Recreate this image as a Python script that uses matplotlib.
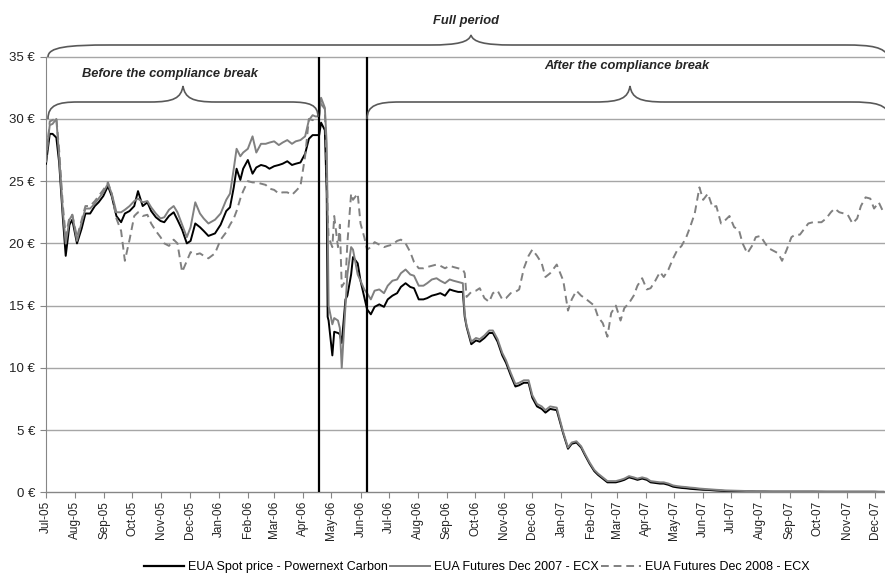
import matplotlib
matplotlib.use("Agg")
import matplotlib.pyplot as plt
import matplotlib.dates as mdates
from matplotlib.path import Path
from matplotlib.patches import PathPatch
from matplotlib.transforms import Affine2D
from matplotlib.lines import Line2D
import pandas as pd

plt.rcParams['font.family'] = ['Liberation Sans', 'DejaVu Sans']

# ---------------- data ----------------
dates = [
    "2005-07-01", "2005-07-05", "2005-07-08", "2005-07-12", "2005-07-15", "2005-07-19", "2005-07-22", "2005-07-26", "2005-07-29",
    "2005-08-03", "2005-08-08", "2005-08-12", "2005-08-17", "2005-08-22", "2005-08-26", "2005-08-31",
    "2005-09-05", "2005-09-09", "2005-09-14", "2005-09-19", "2005-09-23", "2005-09-28",
    "2005-10-03", "2005-10-07", "2005-10-12", "2005-10-17", "2005-10-21", "2005-10-26", "2005-10-31",
    "2005-11-04", "2005-11-09", "2005-11-14", "2005-11-18", "2005-11-23", "2005-11-28",
    "2005-12-02", "2005-12-07", "2005-12-12", "2005-12-16", "2005-12-21", "2005-12-28",
    "2006-01-03", "2006-01-09", "2006-01-13", "2006-01-17", "2006-01-20", "2006-01-24", "2006-01-27",
    "2006-02-01", "2006-02-06", "2006-02-10", "2006-02-15", "2006-02-20", "2006-02-24",
    "2006-03-01", "2006-03-06", "2006-03-10", "2006-03-15", "2006-03-20", "2006-03-24", "2006-03-29",
    "2006-04-03", "2006-04-07", "2006-04-11", "2006-04-14", "2006-04-18", "2006-04-20", "2006-04-24", "2006-04-26", "2006-04-27", "2006-04-28",
    "2006-05-02", "2006-05-04", "2006-05-08", "2006-05-10", "2006-05-12", "2006-05-16", "2006-05-18", "2006-05-22", "2006-05-24", "2006-05-29",
    "2006-06-01", "2006-06-05", "2006-06-08", "2006-06-12", "2006-06-16", "2006-06-21", "2006-06-26", "2006-06-30",
    "2006-07-05", "2006-07-10", "2006-07-14", "2006-07-19", "2006-07-24", "2006-07-28",
    "2006-08-02", "2006-08-07", "2006-08-11", "2006-08-16", "2006-08-21", "2006-08-25", "2006-08-30",
    "2006-09-04", "2006-09-08", "2006-09-13", "2006-09-18", "2006-09-20", "2006-09-22", "2006-09-27",
    "2006-10-02", "2006-10-06", "2006-10-11", "2006-10-16", "2006-10-20", "2006-10-25", "2006-10-30",
    "2006-11-03", "2006-11-08", "2006-11-13", "2006-11-17", "2006-11-22", "2006-11-27",
    "2006-12-01", "2006-12-06", "2006-12-11", "2006-12-15", "2006-12-20", "2006-12-27",
    "2007-01-03", "2007-01-08", "2007-01-12", "2007-01-17", "2007-01-22", "2007-01-26", "2007-01-31",
    "2007-02-05", "2007-02-09", "2007-02-14", "2007-02-19", "2007-02-23", "2007-02-28",
    "2007-03-05", "2007-03-09", "2007-03-14", "2007-03-19", "2007-03-23", "2007-03-28",
    "2007-04-02", "2007-04-06", "2007-04-11", "2007-04-16", "2007-04-20", "2007-04-25", "2007-04-30",
    "2007-05-04", "2007-05-09", "2007-05-14", "2007-05-18", "2007-05-23", "2007-05-28",
    "2007-06-01", "2007-06-06", "2007-06-11", "2007-06-15", "2007-06-20", "2007-06-25", "2007-06-29",
    "2007-07-04", "2007-07-09", "2007-07-13", "2007-07-18", "2007-07-23", "2007-07-27",
    "2007-08-01", "2007-08-06", "2007-08-10", "2007-08-15", "2007-08-20", "2007-08-24", "2007-08-29",
    "2007-09-03", "2007-09-07", "2007-09-12", "2007-09-17", "2007-09-21", "2007-09-26",
    "2007-10-01", "2007-10-05", "2007-10-10", "2007-10-15", "2007-10-19", "2007-10-24", "2007-10-29",
    "2007-11-02", "2007-11-07", "2007-11-12", "2007-11-16", "2007-11-21", "2007-11-26", "2007-11-30",
    "2007-12-05", "2007-12-10",
]

spot_powernext = [
    26.4, 28.8, 28.8, 28.5, 26.5, 22.0, 19.0, 21.5, 21.9,
    20.0, 21.2, 22.4, 22.4, 23.0, 23.3, 23.8,
    24.6, 23.8, 22.2, 21.7, 22.4, 22.6,
    23.0, 24.2, 23.0, 23.3, 22.6, 22.1, 21.8,
    21.7, 22.2, 22.5, 21.9, 21.1, 20.0,
    20.2, 21.6, 21.3, 21.0, 20.6, 20.8,
    21.5, 22.6, 22.9, 24.5, 26.0, 25.1, 26.0,
    26.7, 25.6, 26.1, 26.3, 26.2, 26.0,
    26.2, 26.3, 26.4, 26.6, 26.3, 26.4, 26.5,
    27.2, 28.4, 28.7, 28.7, 28.7, 29.7, 29.1, 24.0, 14.1, 13.8,
    11.0, 12.9, 12.8, 12.7, 12.0, 15.5, 15.8, 17.5, 18.9, 18.4,
    17.0, 15.7, 14.7, 14.3, 14.9, 15.1, 14.9, 15.5,
    15.8, 16.0, 16.5, 16.8, 16.5, 16.4,
    15.5, 15.5, 15.6, 15.8, 15.9, 16.0, 15.8,
    16.3, 16.2, 16.1, 16.1, 14.1, 13.3, 11.9,
    12.2, 12.1, 12.4, 12.8, 12.8, 12.1, 11.0,
    10.4, 9.4, 8.5, 8.6, 8.8, 8.8,
    7.6, 6.9, 6.7, 6.4, 6.7, 6.6,
    4.7, 3.5, 3.9, 4.0, 3.6, 3.0, 2.3,
    1.7, 1.4, 1.1, 0.8, 0.8, 0.8,
    0.9, 1.0, 1.2, 1.1, 1.0, 1.1,
    1.0, 0.8, 0.75, 0.7, 0.7, 0.6, 0.45,
    0.4, 0.35, 0.32, 0.28, 0.25, 0.22,
    0.2, 0.19, 0.16, 0.14, 0.12, 0.1, 0.1,
    0.09, 0.08, 0.08, 0.07, 0.07, 0.06,
    0.06, 0.06, 0.05, 0.05, 0.05, 0.05, 0.05,
    0.05, 0.05, 0.05, 0.05, 0.05, 0.05,
    0.04, 0.04, 0.04, 0.04, 0.04, 0.04, 0.04,
    0.04, 0.04, 0.04, 0.04, 0.04, 0.04, 0.04,
    0.03, 0.03,
]

futures_dec2007 = [
    27.0, 29.5, 29.6, 30.0, 27.0, 22.5, 20.0, 21.9, 22.3,
    20.2, 21.7, 22.8, 22.8, 23.2, 23.6, 24.1,
    24.8, 24.0, 22.5, 22.5, 22.7, 23.0,
    23.4, 23.6, 23.3, 23.4, 22.9, 22.4, 22.0,
    22.1, 22.7, 23.0, 22.5, 21.5, 20.5,
    21.3, 23.3, 22.4, 22.0, 21.6, 21.9,
    22.4, 23.5, 24.0, 26.0, 27.6, 27.0, 27.3,
    27.6, 28.6, 27.3, 28.0, 28.0, 28.1,
    28.2, 27.9, 28.1, 28.3, 28.0, 28.2, 28.3,
    28.6, 29.9, 30.3, 30.2, 30.2, 31.7, 30.9, 28.0, 22.0, 15.0,
    13.5, 14.0, 13.8, 13.2, 10.0, 15.0, 17.5, 19.7, 19.5, 17.5,
    17.0, 16.3, 16.0, 15.5, 16.2, 16.3, 16.0, 16.6,
    17.0, 17.1, 17.6, 17.9, 17.5, 17.4,
    16.6, 16.6, 16.8, 17.1, 17.2, 17.0, 16.8,
    17.1, 17.0, 16.9, 16.8, 14.3, 13.4, 12.1,
    12.4, 12.3, 12.6, 13.0, 13.0, 12.3, 11.2,
    10.6, 9.6, 8.7, 8.8, 9.0, 9.0,
    7.8, 7.1, 6.9, 6.6, 6.9, 6.8,
    4.8, 3.6, 4.0, 4.1, 3.7, 3.1, 2.4,
    1.8, 1.5, 1.2, 0.9, 0.9, 0.9,
    1.0, 1.1, 1.3, 1.2, 1.1, 1.2,
    1.1, 0.9, 0.85, 0.8, 0.8, 0.7, 0.55,
    0.5, 0.45, 0.42, 0.38, 0.35, 0.3,
    0.28, 0.25, 0.22, 0.2, 0.18, 0.15, 0.14,
    0.12, 0.11, 0.1, 0.1, 0.09, 0.09,
    0.08, 0.08, 0.08, 0.07, 0.07, 0.07, 0.07,
    0.07, 0.07, 0.07, 0.07, 0.07, 0.07,
    0.07, 0.07, 0.06, 0.06, 0.06, 0.06, 0.06,
    0.06, 0.06, 0.06, 0.06, 0.06, 0.06, 0.06,
    0.05, 0.05,
]

futures_dec2008 = [
    26.5, 29.8, 29.9, 30.1, 27.5, 23.0, 20.6, 22.1, 22.3,
    20.5, 21.9, 23.0, 23.0, 23.4, 23.8, 24.3,
    24.9, 24.0, 22.0, 21.0, 18.6, 20.3,
    22.2, 22.5, 22.2, 22.3, 21.6, 21.0, 20.5,
    20.0, 19.8, 20.3, 20.0, 17.7, 18.6,
    19.3, 19.1, 19.2, 19.0, 18.8, 19.2,
    20.3, 20.9, 21.5, 22.0, 22.6, 23.6, 24.2,
    25.0, 24.9, 24.9, 24.8, 24.7, 24.4,
    24.3, 24.0, 24.1, 24.1, 23.9, 24.2, 24.6,
    27.0, 30.0, 29.9, 30.1, 30.3, 31.2, 30.8, 26.0, 22.4, 20.5,
    19.7, 22.2, 19.7, 21.5, 16.5, 17.0, 20.0, 24.0, 23.5, 24.0,
    21.6, 20.5, 19.5, 19.7, 20.1, 19.9, 19.7, 19.8,
    19.9, 20.2, 20.3, 20.0, 19.3, 18.5,
    18.0, 18.0, 18.1, 18.2, 18.3, 18.2, 18.0,
    18.2, 18.1, 18.0, 17.9, 17.6, 15.7, 16.1,
    16.2, 16.4, 15.6, 15.3, 16.0, 16.2, 15.5,
    15.6, 16.0, 16.1, 16.3, 18.0, 19.0,
    19.5, 19.0, 18.4, 17.3, 17.6, 18.3,
    17.0, 14.6, 15.5, 16.2, 15.8, 15.6, 15.3,
    15.0, 14.1, 13.6, 12.5, 14.4, 15.0,
    13.8, 14.8, 15.2, 15.8, 16.6, 17.2,
    16.3, 16.4, 17.0, 17.7, 17.3, 17.9, 18.8,
    19.4, 19.8, 20.5, 21.3, 22.4, 24.5,
    23.5, 24.0, 22.9, 23.0, 21.6, 21.9, 22.2,
    21.3, 21.1, 20.0, 19.2, 19.8, 20.5,
    20.6, 20.0, 19.6, 19.4, 19.2, 18.6, 19.5,
    20.5, 20.7, 20.7, 21.2, 21.6, 21.7,
    21.7, 21.7, 22.0, 22.5, 22.8, 22.5, 22.4,
    22.3, 21.6, 22.0, 23.0, 23.7, 23.6, 22.8,
    23.3, 22.5,
]

series_labels = ["EUA Spot price - Powernext Carbon",
                 "EUA Futures Dec 2007 - ECX",
                 "EUA Futures Dec 2008 - ECX"]
y_ticks = [0, 5, 10, 15, 20, 25, 30, 35]
break_dates = ["2006-04-18", "2006-06-08"]
brace_texts = ["Full period", "Before the compliance break", "After the compliance break"]

# ---------------- figure ----------------
W, H = 885, 574
fig = plt.figure(figsize=(W / 100, H / 100), dpi=100)
ax = fig.add_axes([46 / W, 1 - 492.3 / H, (W - 46) / W, (492.3 - 56.7) / H])

x = pd.to_datetime(dates)
grey = '#808080'
ax.plot(x, spot_powernext, color='black', lw=1.4, zorder=3, label=series_labels[0])
ax.plot(x, futures_dec2007, color=grey, lw=1.4, zorder=3, label=series_labels[1])
ax.plot(x, futures_dec2008, color=grey, lw=1.4, dashes=(4, 2.5), zorder=3, label=series_labels[2])

for v in y_ticks:
    ax.axhline(v, color='#a6a6a6', lw=1.0, zorder=1, clip_on=False)

for d in break_dates:
    ax.axvline(pd.Timestamp(d), color='black', lw=1.6, zorder=4)

ax.set_xlim(pd.Timestamp("2005-07-01"), pd.Timestamp("2007-12-11 16:00"))
ax.set_ylim(0, 35)
ax.set_yticks(y_ticks)
ax.set_yticklabels([f"{v} €" for v in y_ticks])
ax.xaxis.set_major_locator(mdates.MonthLocator())
ax.xaxis.set_major_formatter(mdates.DateFormatter('%b-%y'))
for lab in ax.get_xticklabels():
    lab.set_rotation(90)

for s in ['top', 'right']:
    ax.spines[s].set_visible(False)
for s in ['left', 'bottom']:
    ax.spines[s].set_color('#868686')
ax.tick_params(axis='x', direction='out', length=4, color='#868686', labelsize=8.5,
               pad=2, labelcolor='#222222')
ax.tick_params(axis='y', direction='out', length=4, color='#868686', labelsize=9.5,
               pad=4, labelcolor='#222222')

# ---------------- braces (pixel coordinates, origin top-left) ----------------
px = Affine2D().scale(1 / W, -1 / H).translate(0, 1) + fig.transFigure
M, C, L = Path.MOVETO, Path.CURVE4, Path.LINETO


def brace(pts, codes):
    p = PathPatch(Path(pts, codes), fill=False, edgecolor='#595959', lw=1.2,
                  transform=px, clip_on=False)
    fig.add_artist(p)


brace_codes = [M, C, C, C, L, C, C, C, C, C, C, L, C, C, C]
brace([(48, 57), (48, 47), (68, 45), (110, 45), (430, 45),
       (458, 45), (469, 42), (471, 35), (473, 42), (484, 45), (512, 45),
       (845, 45), (872, 45), (884, 47), (889, 57)], brace_codes)
brace([(48, 119), (48, 105), (58, 102), (78, 102), (150, 102),
       (174, 102), (181, 98), (183, 86), (185, 98), (192, 102), (216, 102),
       (290, 102), (310, 102), (318, 105), (318, 117)], brace_codes)
brace([(367, 119), (367, 105), (378, 102), (400, 102), (595, 102),
       (621, 102), (628, 98), (630, 86), (632, 98), (639, 102), (665, 102),
       (850, 102), (876, 102), (887, 104), (891, 118)], brace_codes)

txt_kw = dict(transform=px, ha='center', va='center', fontsize=9.3,
              fontweight='bold', fontstyle='italic', color='#262626')
fig.text(466, 21, brace_texts[0], **txt_kw)
fig.text(170, 74, brace_texts[1], **txt_kw)
fig.text(627, 66, brace_texts[2], **txt_kw)

# ---------------- legend ----------------
handles = [Line2D([], [], color='black', lw=1.6),
           Line2D([], [], color=grey, lw=1.4),
           Line2D([], [], color=grey, lw=1.4, dashes=(4, 2.5))]
fig.legend(handles, series_labels, loc='center', bbox_to_anchor=(477 / W, 1 - 567 / H),
           ncol=3, frameon=False, fontsize=9, handlelength=3.2, handletextpad=0.3,
           columnspacing=0.2, borderaxespad=0, borderpad=0)

fig.savefig('out.png', dpi=100)
